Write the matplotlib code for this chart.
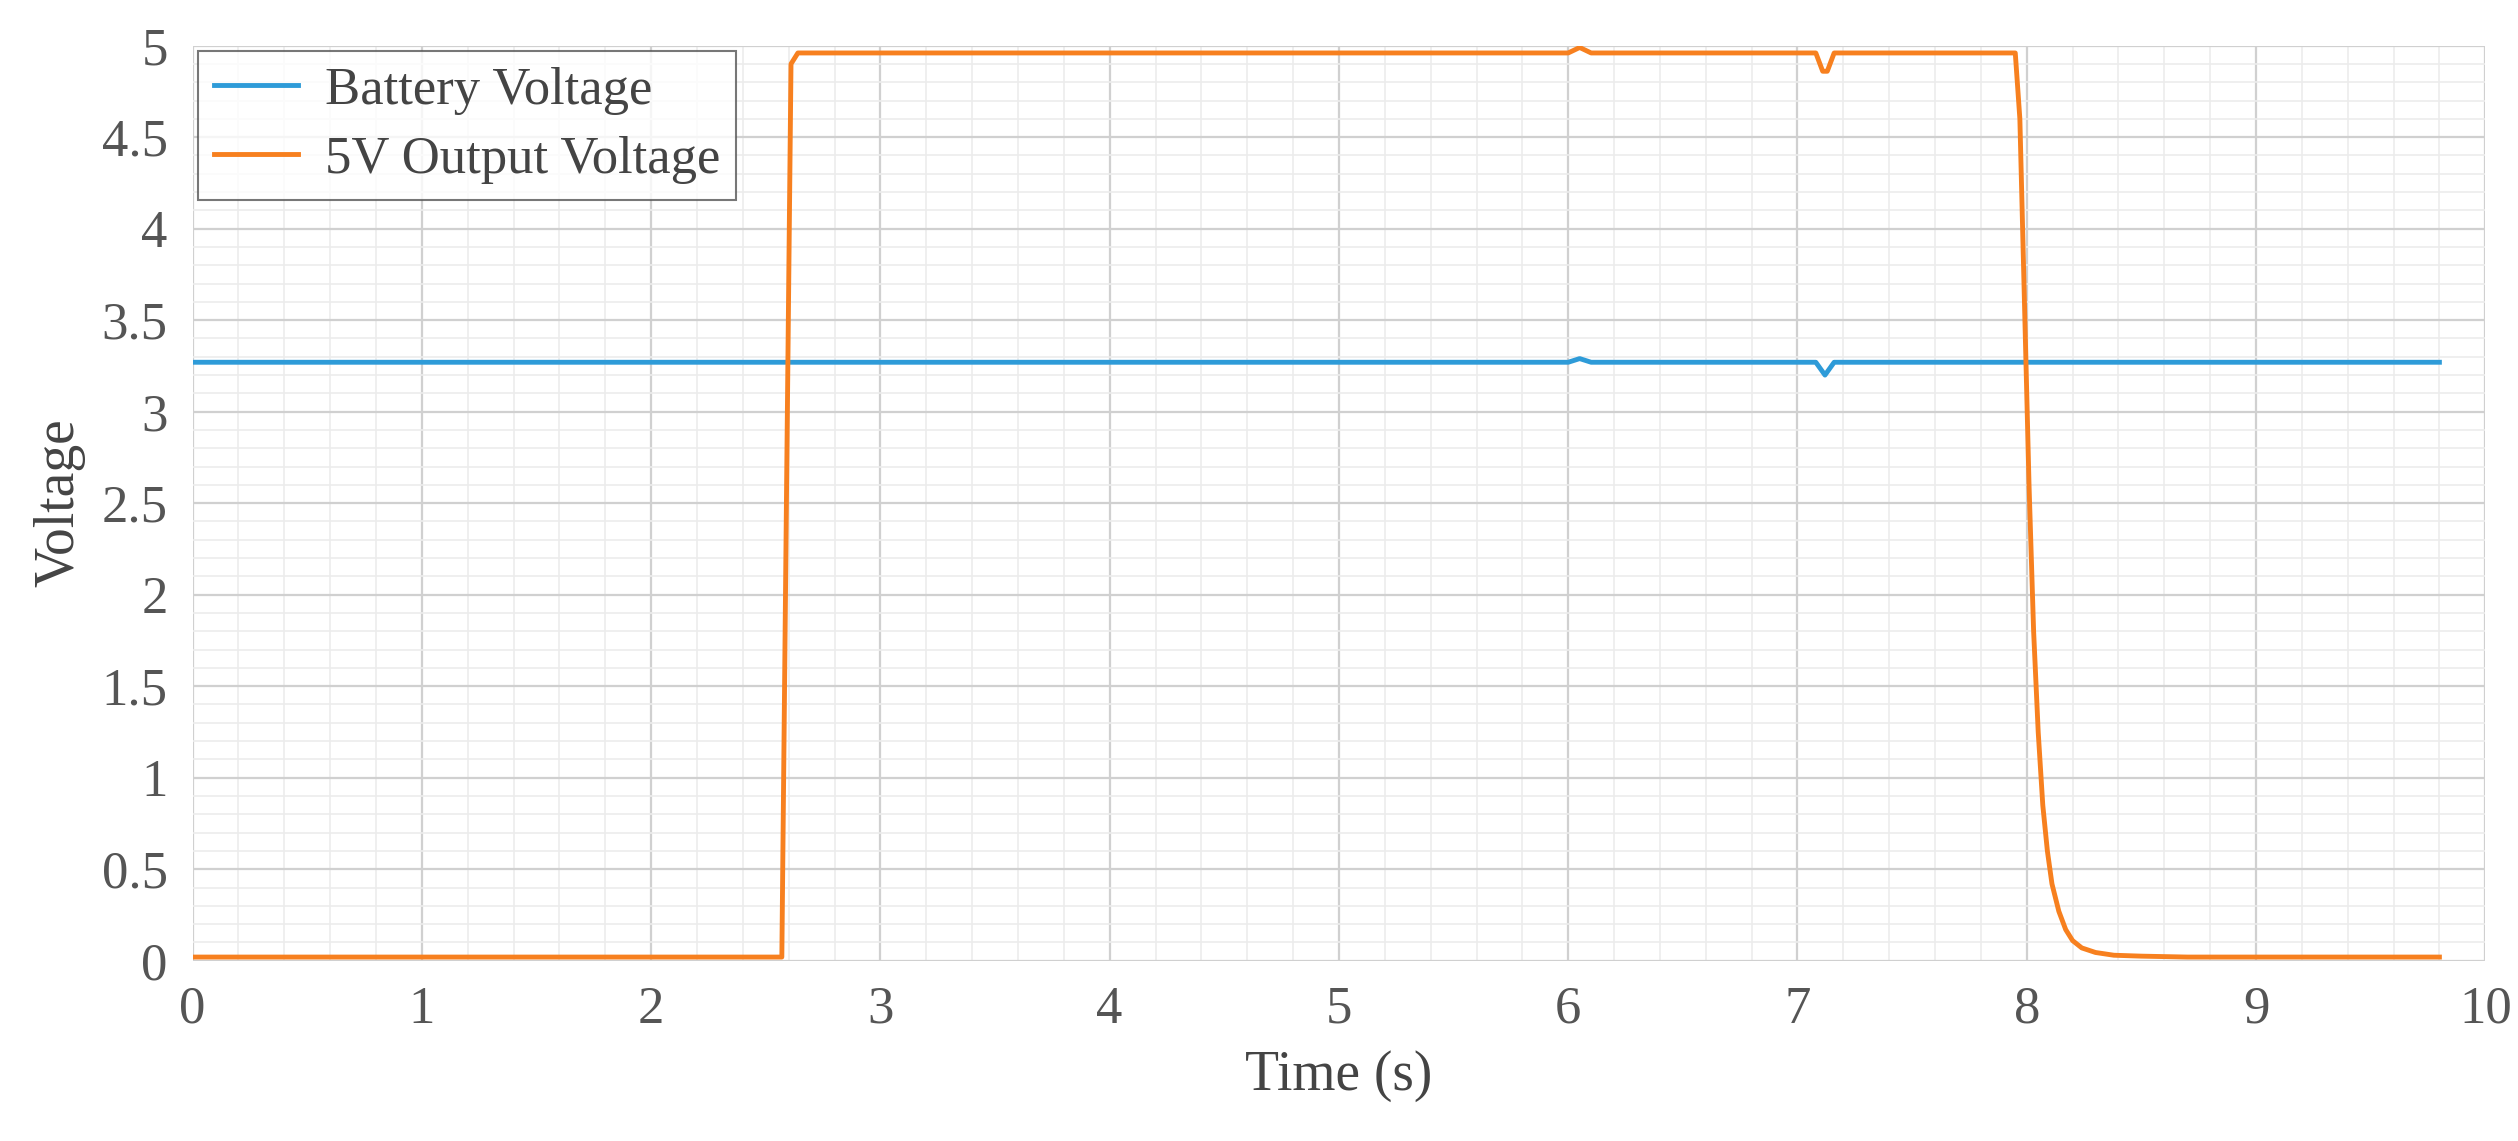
import matplotlib.pyplot as plt
from matplotlib.ticker import MultipleLocator

plt.rcParams["font.family"] = ["Liberation Serif", "DejaVu Serif"]

time_batt = [0.0, 2.6, 6.0, 6.05, 6.1, 7.08, 7.12, 7.16, 9.8]
batt_v = [3.27, 3.27, 3.27, 3.29, 3.27, 3.27, 3.20, 3.27, 3.27]

time_out = [0.0, 2.57, 2.59, 2.61, 2.64, 6.0, 6.05, 6.1, 7.08, 7.11, 7.13, 7.16,
            7.95, 7.97, 7.99, 8.01, 8.03, 8.05, 8.07, 8.09, 8.11, 8.14, 8.17, 8.2,
            8.24, 8.3, 8.38, 8.5, 8.7, 9.8]
out_v = [0.02, 0.02, 2.5, 4.9, 4.96, 4.96, 4.99, 4.96, 4.96, 4.86, 4.86, 4.96,
         4.96, 4.6, 3.6, 2.6, 1.8, 1.25, 0.85, 0.6, 0.42, 0.27, 0.17, 0.11,
         0.07, 0.045, 0.03, 0.025, 0.02, 0.02]

fig, ax = plt.subplots(figsize=(25.18, 11.41), dpi=100)
fig.subplots_adjust(left=0.0765, right=0.987, bottom=0.158, top=0.96)

ax.plot(time_batt, batt_v, color="#2E9BD8", linewidth=3.5, label="Battery Voltage")
ax.plot(time_out, out_v, color="#F7801F", linewidth=3.5, label="5V Output Voltage")

ax.set_xlim(0, 10)
ax.set_ylim(0, 5)
ax.xaxis.set_major_locator(MultipleLocator(1))
ax.xaxis.set_minor_locator(MultipleLocator(0.2))
ax.yaxis.set_major_locator(MultipleLocator(0.5))
ax.yaxis.set_minor_locator(MultipleLocator(0.1))
ax.yaxis.set_major_formatter(lambda v, p: f"{v:g}")
ax.grid(which="major", color="#d0d0d0", linewidth=1.6)
ax.grid(which="minor", color="#ececec", linewidth=1.2)
ax.set_axisbelow(True)
ax.tick_params(which="both", length=0, labelsize=38, colors="#555555", pad=18)
for s in ax.spines.values():
    s.set_visible(False)

ax.set_xlabel("Time (s)", fontsize=40, color="#444444", labelpad=12)
ax.set_ylabel("Voltage", fontsize=40, color="#444444", labelpad=12)

leg = ax.legend(loc="upper left", fontsize=38, frameon=True, fancybox=False,
                edgecolor="#555555", handlelength=1.6, handletextpad=0.5,
                borderaxespad=0.1, borderpad=0.3, labelspacing=0.4)
leg.get_frame().set_linewidth(1.5)
for t in leg.get_texts():
    t.set_color("#444444")

fig.savefig("out.png", dpi=100)
